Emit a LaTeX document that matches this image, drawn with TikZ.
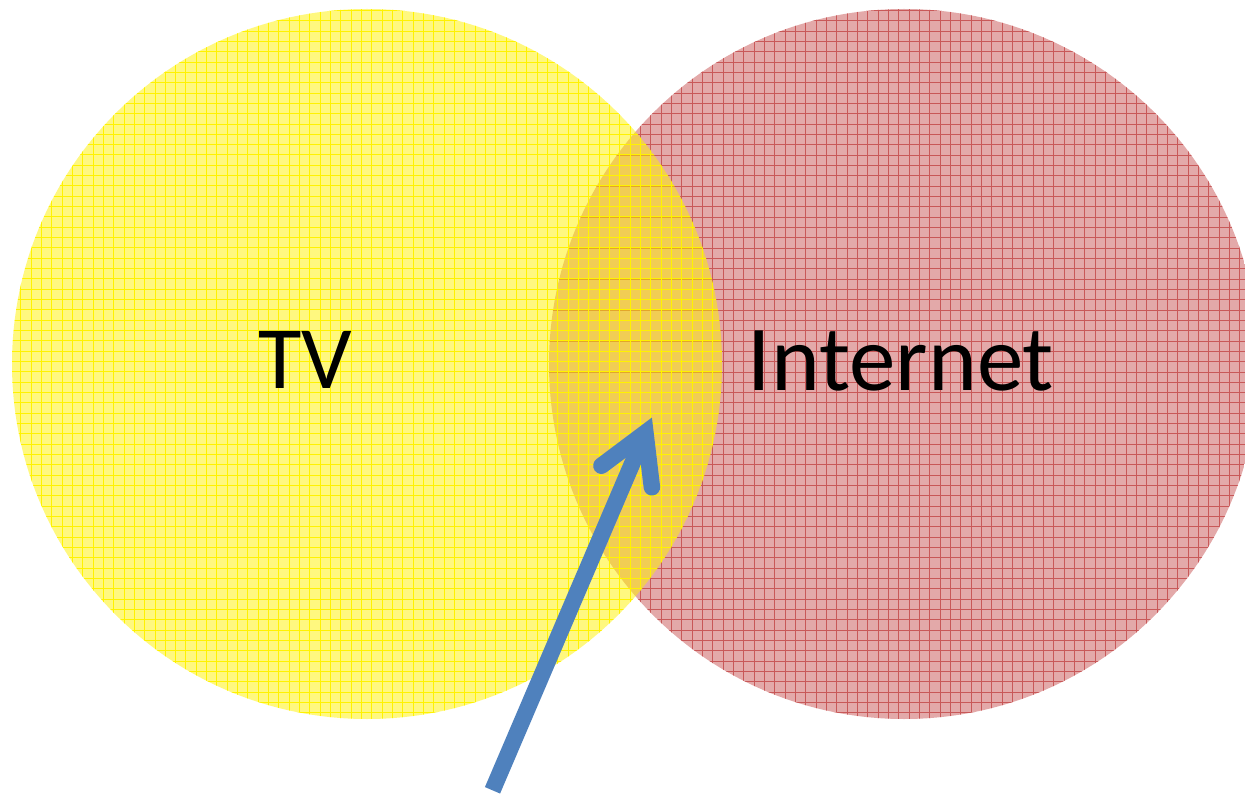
\documentclass[tikz,border=0pt]{standalone}
\usepackage{fontspec}
\setmainfont{Carlito}
\definecolor{pinkfill}{HTML}{E3A9A9}
\definecolor{redline}{HTML}{C85858}
\definecolor{arrowblue}{HTML}{4F81BD}
\begin{document}
\begin{tikzpicture}[x=1pt,y=-1pt,
  lbl/.style={text=black, inner sep=0pt, anchor=base},
  gridred/.style={redline, line width=0.75pt},
  gridyel/.style={yellow, line width=0.9pt},
  arrowline/.style={arrowblue, line width=16.5pt}]
\useasboundingbox (0,0) rectangle (1245,794);
% Internet circle
\begin{scope}
  \clip (904,364) circle[radius=355pt];
  \fill[pinkfill] (0,0) rectangle (1245,794);
  \draw[gridred, step=10.33pt] (540,0) grid (1260,794);
\end{scope}
% TV circle
\begin{scope}
  \clip (367,364) circle[radius=355pt];
  \fill[yellow, fill opacity=0.5] (0,0) rectangle (1245,794);
  \draw[gridyel, step=10.33pt] (0,0) grid (740,794);
\end{scope}
% labels
\node[lbl, font=\fontsize{89}{100}\selectfont] (tv) at (305,388) {TV};
\node[lbl, font=\fontsize{93}{100}\selectfont] (internet) at (901,390) {Internet};
% arrow
\coordinate (tail) at (492.5,790.3);
\coordinate (head) at (645.4,432.7);
\coordinate (barbL) at (601.4,465.7);
\coordinate (barbR) at (651.9,487.3);
\draw[arrowline] (tail) -- (head);
\draw[arrowline, line cap=round, line join=miter] (barbL) -- (head) -- (barbR);
\end{tikzpicture}
\end{document}
